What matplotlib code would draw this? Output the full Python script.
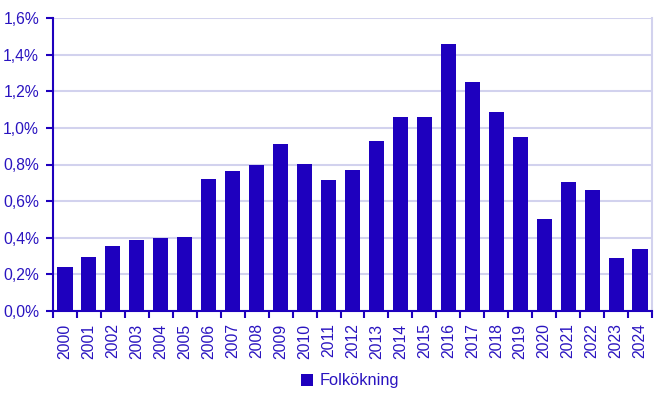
import matplotlib
matplotlib.use("Agg")
import matplotlib.pyplot as plt
from matplotlib.ticker import FuncFormatter, FixedLocator
import numpy as np

years = [str(y) for y in range(2000, 2025)]
values = [0.240, 0.295, 0.355, 0.388, 0.399, 0.404, 0.721, 0.765, 0.797, 0.912,
          0.803, 0.715, 0.770, 0.928, 1.060, 1.060, 1.458, 1.250, 1.087, 0.950,
          0.502, 0.705, 0.661, 0.289, 0.339]
series_name = "Folkökning"

blue = "#1E00BE"
text_c = "#2A14C0"
grid_c = "#D2D2EE"

plt.rcParams['font.family'] = ['Liberation Sans', 'DejaVu Sans']

fig = plt.figure(figsize=(6.7, 3.98), dpi=100)
ax = fig.add_axes([53/670, 1-311/398, (652-53)/670, (311-18)/398])

x = np.arange(len(years))
ax.bar(x, values, width=0.63, color=blue, label=series_name, zorder=3)

ax.set_xlim(-0.5, len(years)-0.5)
ax.set_ylim(0, 1.6)
ax.set_yticks(np.arange(0, 1.61, 0.2))
ax.yaxis.set_major_formatter(FuncFormatter(lambda v, p: f"{v:.1f}".replace(".", ",") + "%"))
ax.grid(axis='y', color=grid_c, linewidth=1.5, zorder=0)

ax.set_xticks(x)
ax.set_xticklabels(years, rotation=90)
ax.xaxis.set_minor_locator(FixedLocator(np.arange(-0.5, len(years), 1)))
ax.tick_params(axis='x', which='major', length=0, colors=text_c, labelsize=11.3, pad=9)
ax.tick_params(axis='x', which='minor', length=5, width=1.5, color=blue)
ax.tick_params(axis='y', length=5, width=1.5, color=blue, labelcolor=text_c, labelsize=11.3, pad=5)

ax.spines['top'].set_visible(False)
ax.spines['right'].set_color(grid_c)
ax.spines['right'].set_linewidth(1.5)
ax.spines['left'].set_color(blue)
ax.spines['left'].set_linewidth(1.5)
ax.spines['bottom'].set_color(blue)
ax.spines['bottom'].set_linewidth(1.5)
ax.spines['bottom'].set_zorder(4)

leg = fig.legend(loc='center', bbox_to_anchor=(350/670, 1-381/398), frameon=False,
                 handlelength=0.7, handleheight=0.7, handletextpad=0.4, fontsize=11.8)
for t in leg.get_texts():
    t.set_color(text_c)

fig.savefig("out.png", dpi=100)
